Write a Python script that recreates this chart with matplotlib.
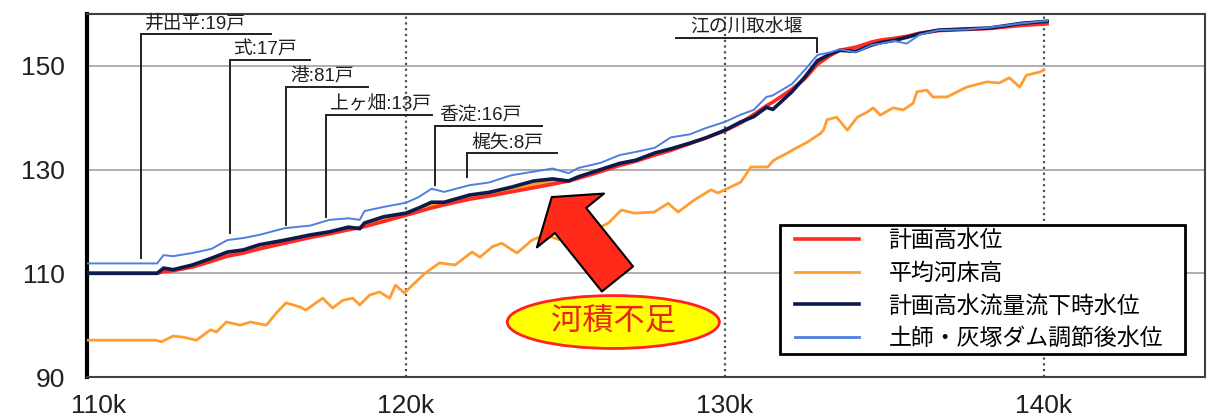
#!/usr/bin/env python3
"""Longitudinal water-level profile (k = distance marker) with household callouts."""

import matplotlib

matplotlib.use("Agg")
import matplotlib.pyplot as plt
import matplotlib.transforms as mtransforms
from matplotlib.legend_handler import HandlerLine2D
from matplotlib.lines import Line2D
from matplotlib.patches import Ellipse, FancyArrowPatch
import numpy as np

plt.rcParams["font.family"] = ["Liberation Sans", "Noto Sans CJK JP", "DejaVu Sans"]

# --- water levels (shared distance axis, k) ---
dist_k = [110.0, 112.2, 112.4, 112.7, 113.3, 113.9, 114.4, 114.9, 115.4, 116.2,
          117.0, 117.6, 118.2, 118.55, 118.7, 119.3, 120.0, 120.4, 120.8, 121.2,
          122.0, 122.6, 123.3, 124.0, 124.6, 125.1, 125.4, 126.1, 126.7, 127.2,
          127.8, 128.3, 128.9, 129.4, 130.0, 130.5, 130.9, 131.3, 131.5, 132.1,
          132.5, 132.9, 133.3, 133.6, 134.1, 134.6, 134.9, 135.3, 135.7, 136.1,
          136.7, 137.5, 138.3, 139.3, 140.1]

plan_hwl = [110.0, 110.0, 110.3, 110.5, 111.2, 112.3, 113.3, 113.9, 114.7, 115.8,
            116.9, 117.6, 118.4, 118.8, 119.0, 120.0, 121.2, 121.9, 122.6, 123.2,
            124.3, 124.9, 125.7, 126.5, 127.2, 127.8, 128.3, 129.6, 130.8, 131.6,
            132.8, 133.7, 135.0, 136.1, 137.5, 139.0, 140.6, 142.3, 143.0, 145.5,
            147.5, 150.3, 152.0, 153.0, 153.6, 154.6, 155.0, 155.3, 155.7, 156.3,
            156.8, 157.0, 157.2, 157.8, 158.1]

design_flow_wl = [110.0, 110.0, 111.0, 110.7, 111.6, 112.9, 114.1, 114.5, 115.5, 116.4,
                  117.4, 118.0, 118.9, 118.6, 119.7, 120.9, 121.6, 122.6, 123.7, 123.7,
                  125.1, 125.6, 126.6, 127.8, 128.2, 127.8, 128.6, 130.0, 131.2, 131.8,
                  133.2, 134.0, 135.1, 136.1, 137.6, 139.2, 140.2, 142.0, 141.6, 145.0,
                  147.8, 151.0, 152.3, 153.0, 152.8, 154.0, 154.5, 154.9, 155.5, 156.2,
                  156.9, 157.1, 157.3, 158.2, 158.6]

dam_adjusted_wl = [111.9, 111.9, 113.5, 113.3, 113.9, 114.7, 116.4, 116.8, 117.4, 118.7,
                   119.2, 120.3, 120.6, 120.3, 122.0, 122.8, 123.6, 124.7, 126.3, 125.7,
                   127.0, 127.5, 128.9, 129.6, 130.2, 129.3, 130.3, 131.3, 132.8, 133.4,
                   134.2, 136.2, 136.8, 138.0, 139.2, 140.6, 141.5, 144.0, 144.3, 146.5,
                   149.2, 152.1, 152.6, 153.2, 152.6, 154.0, 154.3, 154.8, 154.3, 156.0,
                   156.9, 157.0, 157.4, 158.2, 158.7]

# --- mean riverbed ---
bed_k = [110.0, 112.15, 112.34, 112.7, 113.0, 113.43, 113.65, 113.87, 114.06, 114.37,
         114.8, 115.12, 115.62, 115.93, 116.24, 116.68, 116.86, 117.18, 117.39, 117.7,
         118.02, 118.33, 118.55, 118.86, 119.17, 119.49, 119.67, 119.95, 120.2, 120.6,
         121.05, 121.54, 122.07, 122.32, 122.7, 123.0, 123.48, 123.95, 124.35, 124.8,
         125.3, 125.8, 126.35, 126.75, 127.16, 127.78, 128.22, 128.53, 129.03, 129.56,
         129.78, 130.1, 130.5, 130.81, 131.34, 131.53, 131.96, 132.28, 132.59, 133.0,
         133.09, 133.2, 133.5, 133.84, 134.15, 134.46, 134.65, 134.87, 135.27, 135.59,
         135.9, 136.02, 136.33, 136.52, 136.96, 137.58, 138.2, 138.6, 138.92, 139.24,
         139.45, 139.86, 140.0]
bed_mean = [97.1, 97.1, 96.8, 97.9, 97.7, 97.1, 98.1, 99.1, 98.7, 100.6,
            100.0, 100.6, 100.0, 102.3, 104.3, 103.5, 102.9, 104.3, 105.2, 103.3,
            104.8, 105.2, 103.9, 105.8, 106.4, 105.2, 107.7, 106.2, 107.7, 110.0,
            112.0, 111.6, 114.1, 113.1, 115.1, 115.8, 113.9, 116.4, 117.4, 116.5,
            118.2, 118.0, 119.7, 122.2, 121.6, 121.8, 123.5, 121.8, 124.1, 126.1,
            125.5, 126.4, 127.6, 130.5, 130.5, 131.8, 133.2, 134.3, 135.3, 137.0,
            137.6, 139.6, 140.1, 137.6, 140.1, 141.1, 141.9, 140.5, 141.9, 141.5,
            142.8, 145.0, 145.3, 144.0, 144.0, 145.9, 146.9, 146.7, 147.7, 145.9,
            148.2, 148.8, 149.2]

series_labels = ["計画高水位", "平均河床高", "計画高水流量流下時水位", "土師・灰塚ダム調節後水位"]

# --- household callouts (leader drops from label bar to the profile) ---
callout_labels = ["井出平:19戸", "式:17戸", "港:81戸", "上ヶ畑:13戸", "香淀:16戸", "梶矢:8戸"]
callout_x = [111.68, 114.49, 116.24, 117.49, 120.92, 121.92]
callout_top = [156.1, 151.1, 145.9, 140.5, 138.4, 133.2]
callout_end = [115.77, 116.99, 118.8, 120.83, 124.26, 124.73]
callout_bottom = [112.9, 117.8, 119.3, 120.9, 127.0, 128.6]

weir_label = "江の川取水堰"
weir_bar = (128.47, 132.9)
weir_top = 155.4
weir_bottom = 152.7

x_ticks = [110, 120, 130, 140]
x_ticklabels = ["110k", "120k", "130k", "140k"]
y_ticks = [90, 110, 130, 150]

RED = "#ff2a22"
ORANGE = "#ff9d30"
NAVY = "#0c1a4e"
BLUE = "#4f7ee0"


def main() -> None:
    fig = plt.figure(figsize=(12.07, 4.19), dpi=100, facecolor="white")
    ax = fig.add_axes([87 / 1207, 42 / 419, 1118 / 1207, 363 / 419])

    ax.set_xlim(110.1, 145.05)
    ax.set_ylim(90, 160)

    for yv in (110, 130, 150):
        ax.axhline(yv, color="#a8a8a8", linewidth=1.3, zorder=1)
    for xv in (120, 130, 140):
        ax.axvline(xv, color="#505050", linewidth=1.6, linestyle=(0, (1.0, 1.6)), zorder=1)

    x = np.asarray(dist_k)
    red = np.asarray(plan_hwl)
    navy = np.asarray(design_flow_wl)
    ax.fill_between(x, red, navy, where=navy > red, interpolate=True,
                    color="#f5a21c", linewidth=0, zorder=2)

    ax.plot(bed_k, bed_mean, color=ORANGE, linewidth=2.0, zorder=3)
    ax.plot(dist_k, plan_hwl, color=RED, linewidth=2.6, zorder=4)
    ax.plot(dist_k, design_flow_wl, color=NAVY, linewidth=2.6, zorder=5)
    ax.plot(dist_k, dam_adjusted_wl, color=BLUE, linewidth=1.4, zorder=6)

    # callouts
    for lab, cx, top, end, bot in zip(callout_labels, callout_x, callout_top,
                                      callout_end, callout_bottom):
        ax.plot([end, cx, cx], [top, top, bot], color="#202020", linewidth=1.4,
                zorder=7, solid_joinstyle="miter")
        ax.annotate(lab, xy=(cx, top), xytext=(3, 1.0), textcoords="offset points",
                    ha="left", va="bottom", fontsize=13.5, color="#202020", zorder=8)
    ax.plot([weir_bar[0], weir_bar[1], weir_bar[1]], [weir_top, weir_top, weir_bottom],
            color="#202020", linewidth=1.4, zorder=7)
    ax.annotate(weir_label, xy=(sum(weir_bar) / 2, weir_top), xytext=(0, 1.0),
                textcoords="offset points", ha="center", va="bottom", fontsize=13.5,
                color="#202020", zorder=8)

    # shortage arrow + label bubble
    arrow = FancyArrowPatch(
        (126.63, 108.9), (124.57, 124.7),
        arrowstyle="simple,head_length=3.0,head_width=8.6,tail_width=4.0",
        mutation_scale=7.2, facecolor="#ff2a1a", edgecolor="black",
        linewidth=1.5, shrinkA=0, shrinkB=0, zorder=9,
    )
    ax.add_patch(arrow)
    ax.add_patch(Ellipse((126.5, 100.6), 6.65, 10.2, facecolor="#ffff00",
                         edgecolor="#ff2020", linewidth=2.0, zorder=9))
    ax.text(126.5, 100.6, "河積不足", ha="center", va="center", fontsize=22.5,
            color="#e8251c", zorder=10)

    ax.set_xticks(x_ticks)
    ax.set_xticklabels(x_ticklabels)
    ax.set_yticks(y_ticks)
    ax.tick_params(axis="both", length=0, labelsize=19, colors="#202020")
    ax.tick_params(axis="x", pad=12)
    ax.tick_params(axis="y", pad=16)
    # the first distance label sits a little right of its gridline in the source
    first = ax.get_xticklabels()[0]
    first.set_transform(first.get_transform()
                        + mtransforms.ScaledTranslation(0.12, 0, fig.dpi_scale_trans))

    ax.spines["left"].set_linewidth(3.0)
    ax.spines["left"].set_color("black")
    for side in ("top", "right", "bottom"):
        ax.spines[side].set_linewidth(1.5)
        ax.spines[side].set_color("#404040")

    handles = [Line2D([], [], color=RED, linewidth=2.6),
               Line2D([], [], color=ORANGE, linewidth=2.0),
               Line2D([], [], color=NAVY, linewidth=2.6),
               Line2D([], [], color=BLUE, linewidth=2.0)]
    leg = ax.legend(handles, series_labels, loc="lower left",
                    bbox_to_anchor=(0.62, 0.063, 0.362, 0.358), mode="expand",
                    borderaxespad=0.0, fontsize=16.5, handlelength=3.25,
                    handletextpad=1.3, labelspacing=0.42, borderpad=0.18,
                    handler_map={Line2D: HandlerLine2D(xpad=0.48)},
                    fancybox=False, framealpha=1.0, edgecolor="black")
    leg.get_frame().set_linewidth(2.0)
    leg.set_zorder(11)

    fig.savefig("out.png", dpi=100, facecolor="white")
    plt.close(fig)


if __name__ == "__main__":
    main()
